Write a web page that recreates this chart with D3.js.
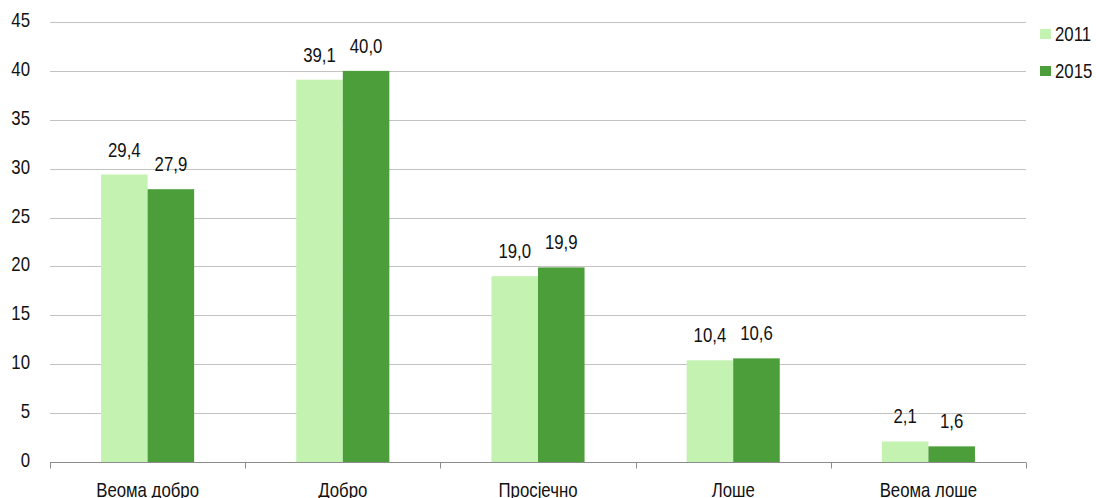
<!DOCTYPE html>
<html>
<head>
<meta charset="utf-8">
<script src="https://cdn.jsdelivr.net/npm/d3@7/dist/d3.min.js"></script>
<style>
  html, body { margin: 0; padding: 0; background: #fff; }
  svg text { font-family: "Liberation Sans", Arial, sans-serif; fill: #111; font-size: 20px; }
</style>
</head>
<body>
<svg id="chart" width="1096" height="498"></svg>
<script>
const categories = ["Веома добро", "Добро", "Просјечно", "Лоше", "Веома лоше"];
const seriesNames = ["2011", "2015"];
const values2011 = [29.4, 39.1, 19.0, 10.4, 2.1];
const values2015 = [27.9, 40.0, 19.9, 10.6, 1.6];
const yTicks = [0, 5, 10, 15, 20, 25, 30, 35, 40, 45];
const colors = ["#c4f2b1", "#4c9e3a"];

const series = [values2011, values2015];
const svg = d3.select("#chart");
const plot = { left: 50, right: 1026, top: 22, bottom: 462 };
const narrow = 0.84; // condensed lettering

const x = d3.scaleBand().domain(categories).range([plot.left, plot.right]);
const y = d3.scaleLinear().domain([0, 45]).range([plot.bottom, plot.top]);
const groupWidth = x.bandwidth() * 0.477;
const xs = d3.scaleBand().domain(seriesNames).range([0, groupWidth]);
const fmt = v => d3.format(".1f")(v).replace(".", ",");

// places condensed text with its anchor at (px, py)
function label(sel, px, py) {
  return sel.attr("transform", (d, i) => `translate(${px(d, i)},${py(d, i)}) scale(${narrow},1)`);
}

// gridlines
svg.append("g").selectAll("line").data(yTicks.filter(t => t > 0)).join("line")
  .attr("x1", plot.left).attr("x2", plot.right)
  .attr("y1", d => Math.round(y(d)) + 0.5).attr("y2", d => Math.round(y(d)) + 0.5)
  .attr("stroke", "#c3c3c3").attr("stroke-width", 1);

// y axis labels
label(svg.append("g").selectAll("text").data(yTicks).join("text")
  .attr("text-anchor", "end").text(d => d), () => 30, d => y(d) + 5);

// bars with value labels
seriesNames.forEach((name, si) => {
  const g = svg.append("g");
  const bx = (d, i) => x(categories[i]) + (x.bandwidth() - groupWidth) / 2 + xs(name);
  g.selectAll("rect").data(series[si]).join("rect")
    .attr("x", bx)
    .attr("width", xs.bandwidth())
    .attr("y", d => y(d))
    .attr("height", d => y(0) - y(d))
    .attr("fill", colors[si]);
  label(g.selectAll("text").data(series[si]).join("text")
    .attr("text-anchor", "middle").text(d => fmt(d)),
    (d, i) => bx(d, i) + xs.bandwidth() / 2, d => y(d) - 18);
});

// x axis
const axisG = svg.append("g").attr("transform", `translate(0,${Math.round(y(0)) + 0.5})`);
axisG.append("line").attr("x1", plot.left).attr("x2", plot.right).attr("stroke", "#8c8c8c");
const bounds = categories.map(c => x(c)).concat([plot.right]);
axisG.selectAll("line.tick").data(bounds).join("line").attr("class", "tick")
  .attr("x1", d => Math.round(d) + 0.5).attr("x2", d => Math.round(d) + 0.5)
  .attr("y1", 0).attr("y2", 6).attr("stroke", "#8c8c8c");
label(axisG.selectAll("text").data(categories).join("text")
  .attr("text-anchor", "middle").text(d => d),
  d => x(d) + x.bandwidth() / 2, () => 34);

// legend
const legend = svg.append("g").attr("transform", "translate(1040,29)");
seriesNames.forEach((name, i) => {
  legend.append("rect").attr("x", 0).attr("y", i * 37).attr("width", 11).attr("height", 10).attr("fill", colors[i]);
  legend.append("text").attr("transform", `translate(15,${i * 37 + 12}) scale(${narrow},1)`).text(name);
});
</script>
</body>
</html>
